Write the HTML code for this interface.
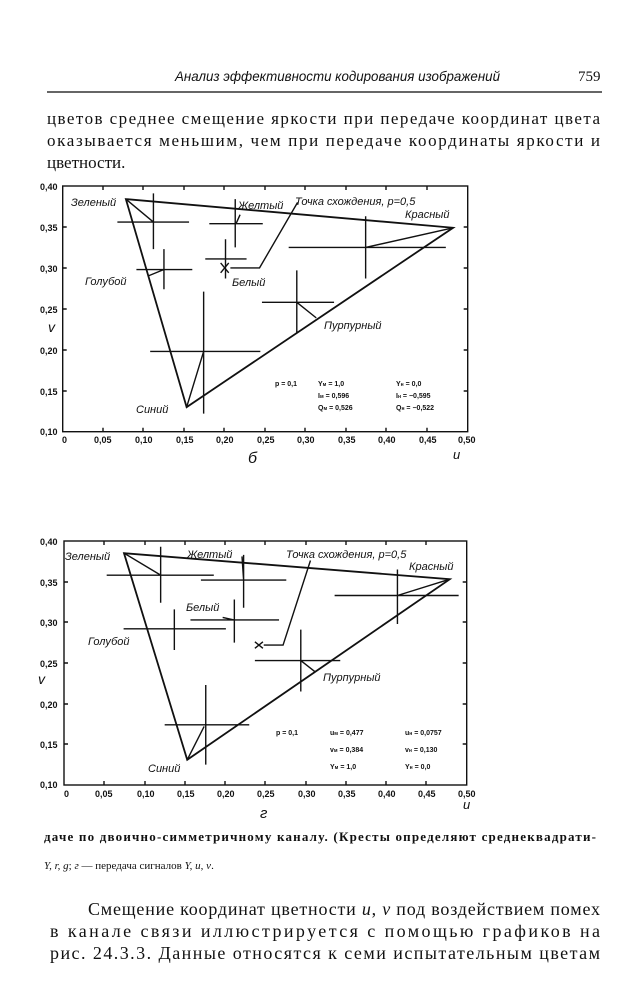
<!DOCTYPE html>
<html><head><meta charset="utf-8"><style>
html,body{margin:0;padding:0;background:#fff;width:641px;height:990px;overflow:hidden}
svg{display:block}
.s{font-family:"Liberation Serif","DejaVu Serif",serif;fill:#111}
.i{font-family:"Liberation Sans","DejaVu Sans",sans-serif;font-style:italic;fill:#111}
.t{font-family:"Liberation Sans",sans-serif;fill:#111;font-size:9px;font-weight:bold}
.sm{font-family:"Liberation Sans",sans-serif;fill:#111;font-size:7px;font-weight:bold}
</style></head><body>
<svg width="641" height="990" viewBox="0 0 641 990" xmlns="http://www.w3.org/2000/svg">
<text class="i" x="175" y="81" font-size="14" textLength="325" lengthAdjust="spacingAndGlyphs">Анализ эффективности кодирования изображений</text>
<text class="s" x="578" y="81" font-size="15">759</text>
<line x1="47" y1="92" x2="602" y2="92" stroke="#333" stroke-width="1.4"/>
<text class="s" x="47" y="124" font-size="17" textLength="553" lengthAdjust="spacing">цветов среднее смещение яркости при передаче координат цвета</text>
<text class="s" x="47" y="146" font-size="17" textLength="553" lengthAdjust="spacing">оказывается меньшим, чем при передаче координаты яркости и</text>
<text class="s" x="47" y="168" font-size="17">цветности.</text>

<g stroke="#111" fill="none" stroke-width="1.4">
<rect x="62.7" y="186" width="405" height="245.7"/>
<g transform="translate(62.7,186) scale(0.81,0.819)">
<polygon points="78,16 482,51 153,270" vector-effect="non-scaling-stroke" stroke-width="1.8"/>
<path vector-effect="non-scaling-stroke" d="M112,9V77M67.5,44H156M78,16L112,44
M213,16V75M181,46H247M219,35L214,46
M125,77V126M91,102H160M105,110L125,102
M201,65V113M176,89H227M195,94L205,106M205,94L195,106
M290,20L243,100H207
M374,37V113M279,75H473M482,51L374,75
M289,103V180M246,142H335M313,161L289,142
M174,129V278M108,202H244M153,270L174,202"/>
</g>
<path d="M62.7,227h4M62.7,268h4M62.7,309h4M62.7,350h4M62.7,391h4M467.7,227h-4M467.7,268h-4M467.7,309h-4M467.7,350h-4M467.7,391h-4
M103,431.7v-4M143,431.7v-4M184,431.7v-4M224,431.7v-4M265,431.7v-4M305,431.7v-4M346,431.7v-4M386,431.7v-4M427,431.7v-4
M103,186v4M143,186v4M184,186v4M224,186v4M265,186v4M305,186v4M346,186v4M386,186v4M427,186v4"/>
</g>
<g class="t">
<text x="40" y="190">0,40</text><text x="40" y="231">0,35</text><text x="40" y="272">0,30</text><text x="40" y="313">0,25</text><text x="40" y="354">0,20</text><text x="40" y="395">0,15</text><text x="40" y="435">0,10</text>
<text x="62" y="443">0</text><text x="94" y="443">0,05</text><text x="135" y="443">0,10</text><text x="176" y="443">0,15</text><text x="216" y="443">0,20</text><text x="257" y="443">0,25</text><text x="297" y="443">0,30</text><text x="338" y="443">0,35</text><text x="378" y="443">0,40</text><text x="419" y="443">0,45</text><text x="458" y="443">0,50</text>
</g>
<g class="i" font-size="11">
<text x="71" y="206">Зеленый</text><text x="238" y="209">Желтый</text><text x="295" y="205">Точка схождения, p=0,5</text>
<text x="405" y="218">Красный</text><text x="85" y="285">Голубой</text><text x="232" y="286">Белый</text>
<text x="324" y="329">Пурпурный</text><text x="136" y="413">Синий</text>
<text x="48" y="332" font-size="14">v</text><text x="248" y="463" font-size="16">б</text><text x="453" y="459" font-size="13">u</text>
</g>
<g class="sm"><text x="275" y="386">p = 0,1</text><text x="318" y="386">Y<tspan font-size="5">м</tspan> = 1,0</text><text x="318" y="398">I<tspan font-size="5">м</tspan> = 0,596</text><text x="318" y="410">Q<tspan font-size="5">м</tspan> = 0,526</text>
<text x="396" y="386">Y<tspan font-size="5">н</tspan> = 0,0</text><text x="396" y="398">I<tspan font-size="5">н</tspan> = −0,595</text><text x="396" y="410">Q<tspan font-size="5">н</tspan> = −0,522</text></g>

<g stroke="#111" fill="none" stroke-width="1.4">
<rect x="64" y="541" width="402.7" height="244"/>
<g transform="translate(64,541) scale(0.8054,0.8133)">
<polygon points="74.5,15 479,47 153,269" vector-effect="non-scaling-stroke" stroke-width="1.8"/>
<path vector-effect="non-scaling-stroke" d="M120,7V76M53,42H186M74.5,15L120,42
M223,17V82M170,48H276M221,19L223,48
M211.5,72V125M157,97H267M197,94L211,97
M137,84V134M74,108H201
M237,124L247,132M247,124L237,132
M306,24L272,128H248
M414,35V102M336,67H490M479,47L414,67
M294,109V185M237,147H343M312,161L294,147
M176,177V275M125,226H230M153,269L174,228"/>
</g>
<path d="M64,582h4M64,622h4M64,663h4M64,704h4M64,744h4M466.7,582h-4M466.7,622h-4M466.7,663h-4M466.7,704h-4M466.7,744h-4
M104,785v-4M145,785v-4M185,785v-4M225,785v-4M265,785v-4M306,785v-4M346,785v-4M386,785v-4M426,785v-4
M104,541v4M145,541v4M185,541v4M225,541v4M265,541v4M306,541v4M346,541v4M386,541v4M426,541v4"/>
</g>
<g class="t">
<text x="40" y="545">0,40</text><text x="40" y="586">0,35</text><text x="40" y="626">0,30</text><text x="40" y="667">0,25</text><text x="40" y="708">0,20</text><text x="40" y="748">0,15</text><text x="40" y="788">0,10</text>
<text x="64" y="797">0</text><text x="95" y="797">0,05</text><text x="137" y="797">0,10</text><text x="177" y="797">0,15</text><text x="217" y="797">0,20</text><text x="257" y="797">0,25</text><text x="298" y="797">0,30</text><text x="338" y="797">0,35</text><text x="378" y="797">0,40</text><text x="418" y="797">0,45</text><text x="458" y="797">0,50</text>
</g>
<g class="i" font-size="11">
<text x="65" y="560">Зеленый</text><text x="187" y="558">Желтый</text><text x="286" y="558">Точка схождения, p=0,5</text>
<text x="409" y="570">Красный</text><text x="186" y="611">Белый</text><text x="88" y="645">Голубой</text>
<text x="323" y="681">Пурпурный</text><text x="148" y="772">Синий</text>
<text x="38" y="684" font-size="14">v</text><text x="260" y="818" font-size="15">г</text><text x="463" y="809" font-size="13">u</text>
</g>
<g class="sm"><text x="276" y="735">p = 0,1</text>
<text x="330" y="735">u<tspan font-size="5">м</tspan> = 0,477</text><text x="330" y="752">v<tspan font-size="5">м</tspan> = 0,384</text><text x="330" y="769">Y<tspan font-size="5">м</tspan> = 1,0</text>
<text x="405" y="735">u<tspan font-size="5">н</tspan> = 0,0757</text><text x="405" y="752">v<tspan font-size="5">н</tspan> = 0,130</text><text x="405" y="769">Y<tspan font-size="5">н</tspan> = 0,0</text></g>

<text class="s" x="44" y="841" font-size="13" font-weight="bold" textLength="552" lengthAdjust="spacing">даче по двоично-симметричному каналу. (Кресты определяют среднеквадрати-</text>
<text class="s" x="44" y="869" font-size="11"><tspan font-style="italic">Y, r, g</tspan>; <tspan font-style="italic">г</tspan> — передача сигналов <tspan font-style="italic">Y, u, v</tspan>.</text>
<text class="s" x="88" y="915" font-size="18" textLength="512" lengthAdjust="spacing">Смещение координат цветности <tspan font-style="italic">u</tspan>, <tspan font-style="italic">v</tspan> под воздействием помех</text>
<text class="s" x="50" y="937" font-size="18" textLength="550" lengthAdjust="spacing">в канале связи иллюстрируется с помощью графиков на</text>
<text class="s" x="50" y="959" font-size="18" textLength="550" lengthAdjust="spacing">рис. 24.3.3. Данные относятся к семи испытательным цветам</text>
</svg>
</body></html>
